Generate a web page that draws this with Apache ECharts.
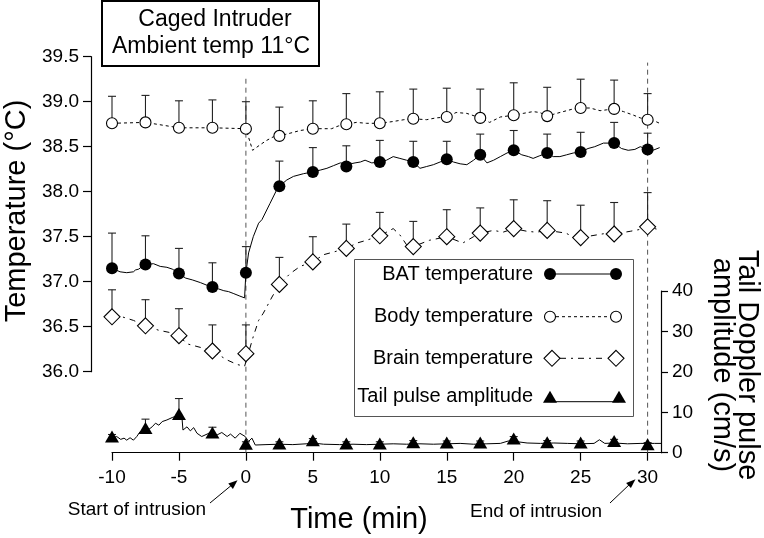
<!DOCTYPE html>
<html><head><meta charset="utf-8">
<script src="https://cdn.jsdelivr.net/npm/echarts@6/dist/echarts.min.js"></script>
<style>html,body{margin:0;padding:0;background:#fff}#c{width:764px;height:538px}</style>
</head><body><div id="c"></div>
<script>
// ---------- DATA ----------
const markerTimes = [-10,-7.5,-5,-2.5,0,2.5,5,7.5,10,12.5,15,17.5,20,22.5,25,27.5,30];
const xTickValues = [-10,-5,0,5,10,15,20,25,30];

const batMean  = [37.15,37.19,37.09,36.94,37.10,38.06,38.22,38.28,38.33,38.33,38.36,38.41,38.46,38.43,38.44,38.54,38.47];
const batSem   = [0.39,0.32,0.28,0.27,0.29,0.28,0.27,0.23,0.24,0.23,0.20,0.23,0.22,0.21,0.22,0.23,0.18];
const bodyMean = [38.76,38.77,38.71,38.71,38.70,38.62,38.70,38.75,38.76,38.81,38.83,38.82,38.85,38.84,38.93,38.92,38.80];
const bodySem  = [0.30,0.30,0.30,0.31,0.30,0.32,0.31,0.34,0.35,0.33,0.32,0.32,0.36,0.32,0.32,0.32,0.29];
const brainMean= [36.61,36.51,36.40,36.23,36.20,36.97,37.22,37.37,37.51,37.39,37.50,37.54,37.59,37.57,37.49,37.53,37.61];
const brainSem = [0.30,0.29,0.30,0.29,0.32,0.30,0.28,0.27,0.26,0.28,0.30,0.28,0.32,0.33,0.36,0.35,0.38];
const tailMean = [4.0,6.1,9.6,5.0,2.2,2.3,3.1,2.3,2.3,2.6,2.5,2.5,3.5,2.6,2.5,2.9,2.1];
const tailSem  = [0.5,2.2,3.8,1.3,0.5,0.4,0.4,0.4,0.4,0.4,0.4,0.4,0.5,0.4,0.4,0.4,0.4];

const batTrace = [[-10,37.15],[-9.4,37.11],[-8.9,37.10],[-8.4,37.11],[-8.25,37.13],[-8.0,37.14],[-7.75,37.17],[-7.5,37.19],[-6.9,37.20],[-6.4,37.17],[-5.9,37.16],[-5.5,37.14],[-5.0,37.09],[-4.5,37.04],[-4.0,37.02],[-3.4,36.99],[-2.9,36.96],[-2.5,36.94],[-2.05,36.92],[-1.65,36.90],[-1.3,36.89],[-0.95,36.87],[-0.45,36.84],[-0.1,36.82],[0,37.10],[0.2,37.32],[0.55,37.50],[0.95,37.65],[1.2,37.69],[1.8,37.87],[2.3,38.02],[2.5,38.06],[3.05,38.13],[3.55,38.17],[4.3,38.20],[5.0,38.22],[5.55,38.24],[6.05,38.26],[6.55,38.29],[7.05,38.32],[7.5,38.30],[8.15,38.32],[8.55,38.33],[8.9,38.35],[9.4,38.32],[10,38.33],[10.5,38.35],[11.0,38.39],[11.5,38.37],[12.0,38.35],[12.5,38.33],[13.0,38.26],[13.5,38.28],[14.0,38.30],[14.5,38.33],[15,38.36],[15.5,38.33],[16.0,38.31],[16.5,38.30],[17.0,38.35],[17.5,38.41],[18.0,38.32],[18.5,38.35],[19.0,38.39],[19.5,38.43],[20,38.46],[20.6,38.41],[21.1,38.39],[21.45,38.37],[21.95,38.40],[22.5,38.43],[22.95,38.39],[23.45,38.39],[23.95,38.41],[24.45,38.43],[25,38.44],[25.55,38.48],[26.05,38.50],[26.7,38.54],[27.5,38.54],[28.05,38.48],[28.55,38.46],[29.05,38.47],[29.45,38.50],[30,38.47],[30.4,38.46],[30.9,38.49]];
const bodyTrace = [[-10,38.76],[-7.5,38.77],[-5,38.71],[-2.5,38.71],[0,38.70],[0.5,38.46],[1.05,38.52],[1.55,38.57],[2.05,38.61],[2.5,38.62],[3.3,38.65],[4.05,38.68],[5,38.70],[5.8,38.70],[6.4,38.70],[6.9,38.73],[7.5,38.75],[8.25,38.77],[9.0,38.76],[10,38.76],[11.0,38.78],[11.8,38.80],[12.5,38.81],[13.5,38.80],[14.2,38.82],[15,38.83],[15.7,38.88],[16.5,38.87],[17.5,38.82],[18.2,38.77],[19.0,38.83],[20,38.85],[20.7,38.87],[21.45,38.89],[21.95,38.88],[22.5,38.84],[23.2,38.87],[23.95,38.90],[24.45,38.92],[25,38.93],[25.7,38.93],[26.45,38.90],[26.95,38.91],[27.5,38.92],[28.2,38.89],[28.95,38.85],[29.45,38.82],[30,38.80],[30.6,38.78],[30.9,38.76]];
const brainTrace = [[-10,36.61],[-9.25,36.61],[-8.4,36.57],[-7.5,36.51],[-6.5,36.46],[-5.5,36.43],[-5,36.40],[-4.4,36.31],[-3.4,36.27],[-2.5,36.23],[-1.4,36.13],[-0.65,36.08],[-0.1,36.06],[0.55,36.39],[0.95,36.57],[1.3,36.65],[1.95,36.83],[2.5,36.97],[3.3,37.09],[4.05,37.17],[5,37.22],[5.8,37.30],[6.55,37.33],[7.5,37.37],[8.3,37.43],[9.0,37.46],[10,37.51],[11.0,37.59],[11.5,37.52],[12.0,37.41],[12.5,37.39],[13.7,37.46],[15,37.50],[16.2,37.43],[17.0,37.50],[17.5,37.54],[18.5,37.57],[19.2,37.55],[20,37.59],[21.0,37.56],[21.7,37.55],[22.5,37.57],[23.9,37.54],[24.4,37.50],[25,37.49],[26.2,37.52],[27.0,37.54],[27.5,37.53],[28.7,37.56],[29.4,37.58],[30,37.61],[30.8,37.58]];
const tailTrace = [[-10,3.6],[-9.65,4.0],[-9.35,3.3],[-9.1,3.6],[-8.9,3.1],[-8.65,3.7],[-8.4,3.1],[-8.15,4.0],[-7.9,5.2],[-7.4,5.4],[-7.0,6.4],[-6.75,7.3],[-6.5,6.8],[-6.25,7.7],[-5.9,8.1],[-5.5,8.7],[-5.0,9.3],[-4.8,9.7],[-4.7,5.6],[-4.4,6.4],[-4.15,5.4],[-3.9,6.2],[-3.65,4.8],[-3.3,4.0],[-2.9,4.6],[-2.55,5.2],[-2.15,4.4],[-1.8,5.0],[-1.4,4.0],[-1.15,4.6],[-0.8,3.6],[-0.45,4.8],[-0.05,4.0],[0.2,2.8],[0.45,3.6],[0.7,1.9],[1.5,2.0],[2.5,2.1],[3.5,2.0],[4.5,2.2],[5,2.4],[5.8,2.1],[7,2.0],[8,2.1],[9,2.0],[10,2.1],[11,2.2],[12,2.1],[13,2.2],[14,2.1],[15,2.2],[16,2.3],[17,2.1],[18,2.2],[19,2.3],[19.6,2.9],[20.3,2.7],[21,2.4],[22,2.3],[23,2.4],[24,2.3],[25,2.2],[26,2.3],[26.4,3.2],[26.8,2.3],[27.5,2.4],[28.5,2.2],[29.5,2.3],[30.5,2.3],[31,2.3]];

// intrusion markers: [time, top of dashed line on the tail axis scale]
const intrusionLines = [[0, 92.5],[30, 96.5]];

const legendLabels = ['BAT temperature','Body temperature','Brain temperature','Tail pulse amplitude'];
const titleLines = ['Caged Intruder','Ambient temp 11\u00B0C'];

// ---------- CHART ----------
const FONT = "'Liberation Sans', Arial, Helvetica, sans-serif";
const chart = echarts.init(document.getElementById('c'), null, {renderer:'canvas'});

const zip = (m, e) => markerTimes.map((t,i)=> e ? [t, m[i], e[i]] : [t, m[i]]);

function errRender(params, api){
  const t = api.value(0), m = api.value(1), e = api.value(2);
  const p0 = api.coord([t,m]), p1 = api.coord([t,m+e]);
  return {type:'group', children:[
    {type:'line', shape:{x1:p0[0],y1:p0[1],x2:p1[0],y2:p1[1]}, style:{stroke:'#222',lineWidth:1.1}},
    {type:'line', shape:{x1:p1[0]-4,y1:p1[1],x2:p1[0]+4,y2:p1[1]}, style:{stroke:'#222',lineWidth:1.1}}
  ]};
}
function vlineRender(params, api){
  const t = api.value(0), top = api.value(1);
  const a = api.coord([t,0]), b = api.coord([t,top]);
  return {type:'line', shape:{x1:a[0],y1:a[1],x2:b[0],y2:b[1]}, style:{stroke:'#555',lineWidth:1,lineDash:[5,4]}};
}

const axisLineStyle = {show:true, onZero:false, lineStyle:{color:'#000',width:1.2}};
const axisTickStyle = {show:true, inside:false, length:8, lineStyle:{color:'#000',width:1.2}};
const labelBase = {color:'#000', fontSize:19, fontFamily:FONT};

// legend graphic
const LX1 = 550, LX2 = 616, LTX = 533;
const rows = [274, 316.7, 358.3, 396.7];
const lg = [];
lg.push({type:'rect', shape:{x:354.5,y:259.5,width:279,height:157}, style:{fill:'#fff',stroke:'#555',lineWidth:1}, z:50});
legendLabels.forEach((s,i)=>{
  lg.push({type:'text', x:LTX, y:rows[i], style:{text:s, fontSize:20, fontFamily:FONT, fill:'#000', align:'right', verticalAlign:'middle'}, z:51});
});
// BAT
lg.push({type:'line', shape:{x1:LX1,y1:rows[0],x2:LX2,y2:rows[0]}, style:{stroke:'#000',lineWidth:1}, z:51});
lg.push({type:'circle', shape:{cx:LX1,cy:rows[0],r:6}, style:{fill:'#000'}, z:52});
lg.push({type:'circle', shape:{cx:LX2,cy:rows[0],r:6}, style:{fill:'#000'}, z:52});
// Body
lg.push({type:'line', shape:{x1:LX1,y1:rows[1],x2:LX2,y2:rows[1]}, style:{stroke:'#000',lineWidth:1,lineDash:[3,3]}, z:51});
lg.push({type:'circle', shape:{cx:LX1,cy:rows[1],r:5.5}, style:{fill:'#fff',stroke:'#000',lineWidth:1.1}, z:52});
lg.push({type:'circle', shape:{cx:LX2,cy:rows[1],r:5.5}, style:{fill:'#fff',stroke:'#000',lineWidth:1.1}, z:52});
// Brain
lg.push({type:'line', shape:{x1:LX1+10,y1:rows[2],x2:LX2-10,y2:rows[2]}, style:{stroke:'#000',lineWidth:1,lineDash:[6,5,2,5]}, z:51});
[LX1+2, LX2].forEach(cx=>lg.push({type:'polygon', shape:{points:[[cx,rows[2]-8],[cx+8,rows[2]],[cx,rows[2]+8],[cx-8,rows[2]]]}, style:{fill:'#fff',stroke:'#000',lineWidth:1.1}, z:52}));
// Tail
lg.push({type:'line', shape:{x1:LX1,y1:rows[3]+5,x2:LX2+3,y2:rows[3]+5}, style:{stroke:'#000',lineWidth:1}, z:51});
[LX1, LX2+3].forEach(cx=>lg.push({type:'polygon', shape:{points:[[cx,rows[3]-6],[cx+7,rows[3]+6],[cx-7,rows[3]+6]]}, style:{fill:'#000'}, z:52}));

const graphics = [
  // title box
  {type:'rect', shape:{x:102,y:1,width:217,height:65}, style:{fill:'#fff',stroke:'#000',lineWidth:2}, z:50},
  {type:'text', x:215, y:20, style:{text:titleLines[0], fontSize:23, fontFamily:FONT, fill:'#000', align:'center', verticalAlign:'middle'}, z:51},
  {type:'text', x:211, y:46.5, style:{text:titleLines[1], fontSize:23, fontFamily:FONT, fill:'#000', align:'center', verticalAlign:'middle'}, z:51},
  // axis titles
  {type:'text', x:17, y:211, rotation:Math.PI/2, style:{text:'Temperature (\u00B0C)', fontSize:29, fontFamily:FONT, fill:'#000', align:'center', verticalAlign:'middle'}},
  {type:'text', x:734, y:365, rotation:-Math.PI/2, style:{text:'Tail Doppler pulse\namplitude (cm/s)', fontSize:29, fontFamily:FONT, fill:'#000', align:'center', verticalAlign:'middle', lineHeight:25}},
  {type:'text', x:359, y:520, style:{text:'Time (min)', fontSize:29, fontFamily:FONT, fill:'#000', align:'center', verticalAlign:'middle'}},
  // annotations
  {type:'text', x:137, y:510, style:{text:'Start of intrusion', fontSize:19, fontFamily:FONT, fill:'#000', align:'center', verticalAlign:'middle'}},
  {type:'line', shape:{x1:210,y1:503,x2:233,y2:484}, style:{stroke:'#000',lineWidth:1}},
  {type:'polygon', shape:{points:[[237.5,480.3],[232.9,489.0],[228.3,483.6]]}, style:{fill:'#000'}},
  {type:'text', x:536, y:512, style:{text:'End of intrusion', fontSize:19, fontFamily:FONT, fill:'#000', align:'center', verticalAlign:'middle'}},
  {type:'line', shape:{x1:610,y1:503,x2:631,y2:483}, style:{stroke:'#000',lineWidth:1}},
  {type:'polygon', shape:{points:[[635.5,479.3],[630.9,488.0],[626.1,483.0]]}, style:{fill:'#000'}},
].concat(lg);

const option = {
  animation:false,
  backgroundColor:'#fff',
  textStyle:{fontFamily:FONT},
  grid:[
    {left:112, width:549, top:56.7, height:315},
    {left:112, width:549, top:291, height:161.7}
  ],
  xAxis:[
    {gridIndex:0, type:'value', min:-10, max:31, show:false},
    {gridIndex:1, type:'value', min:-10, max:31, interval:5,
     axisLine:axisLineStyle,
     axisTick:Object.assign({customValues:xTickValues}, axisTickStyle),
     axisLabel:Object.assign({customValues:xTickValues, margin:16}, labelBase),
     splitLine:{show:false}}
  ],
  yAxis:[
    {gridIndex:0, type:'value', min:36, max:39.5, interval:0.5, position:'left', offset:21,
     axisLine:axisLineStyle, axisTick:axisTickStyle,
     axisLabel:Object.assign({margin:12, formatter:v=>v.toFixed(1)}, labelBase),
     splitLine:{show:false}},
    {gridIndex:1, type:'value', min:0, max:40, interval:10, position:'right',
     axisLine:axisLineStyle, axisTick:Object.assign({}, axisTickStyle, {length:7}),
     axisLabel:Object.assign({margin:11}, labelBase),
     splitLine:{show:false}}
  ],
  graphic:graphics,
  series:[
    {type:'custom', xAxisIndex:1, yAxisIndex:1, renderItem:vlineRender, data:intrusionLines, clip:false, z:1, silent:true},
    // traces
    {type:'line', xAxisIndex:0, yAxisIndex:0, data:bodyTrace, showSymbol:false, lineStyle:{color:'#000',width:1,type:[3,3]}, z:2},
    {type:'line', xAxisIndex:0, yAxisIndex:0, data:batTrace, showSymbol:false, lineStyle:{color:'#000',width:1}, z:2},
    {type:'line', xAxisIndex:0, yAxisIndex:0, data:brainTrace, showSymbol:false, lineStyle:{color:'#000',width:1,type:[6,5,2,5]}, z:2},
    {type:'line', xAxisIndex:1, yAxisIndex:1, data:tailTrace, showSymbol:false, lineStyle:{color:'#000',width:1}, z:2},
    // error bars
    {type:'custom', xAxisIndex:0, yAxisIndex:0, renderItem:errRender, data:zip(bodyMean,bodySem), clip:false, z:3},
    {type:'custom', xAxisIndex:0, yAxisIndex:0, renderItem:errRender, data:zip(batMean,batSem), clip:false, z:3},
    {type:'custom', xAxisIndex:0, yAxisIndex:0, renderItem:errRender, data:zip(brainMean,brainSem), clip:false, z:3},
    {type:'custom', xAxisIndex:1, yAxisIndex:1, renderItem:errRender, data:zip(tailMean,tailSem), clip:false, z:3},
    // markers
    {name:'Body temperature', type:'scatter', xAxisIndex:0, yAxisIndex:0, data:zip(bodyMean), symbol:'circle', symbolSize:11, itemStyle:{color:'#fff',borderColor:'#000',borderWidth:1.1,opacity:1}, z:4},
    {name:'BAT temperature', type:'scatter', xAxisIndex:0, yAxisIndex:0, data:zip(batMean), symbol:'circle', symbolSize:12, itemStyle:{color:'#000',opacity:1}, z:4},
    {name:'Brain temperature', type:'scatter', xAxisIndex:0, yAxisIndex:0, data:zip(brainMean), symbol:'diamond', symbolSize:16, itemStyle:{color:'#fff',borderColor:'#000',borderWidth:1.1,opacity:1}, z:4},
    {name:'Tail pulse amplitude', type:'scatter', xAxisIndex:1, yAxisIndex:1, data:zip(tailMean), symbol:'triangle', symbolSize:[14,12], itemStyle:{color:'#000',opacity:1}, z:4}
  ]
};
chart.setOption(option);
</script>
</body></html>
